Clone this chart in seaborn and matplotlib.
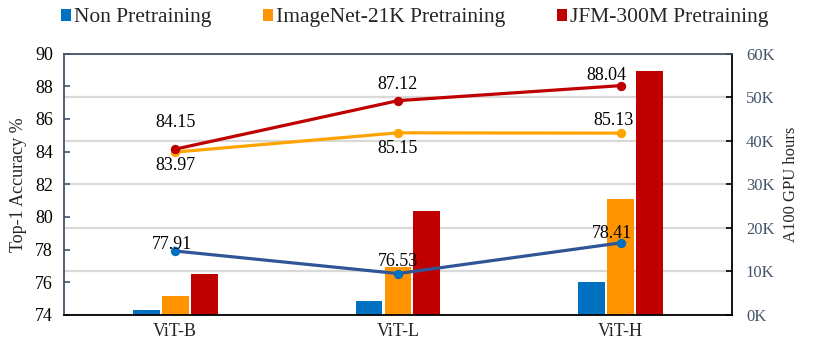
import numpy as np, pandas as pd
import matplotlib
matplotlib.use("Agg")
import matplotlib.pyplot as plt
from matplotlib.patches import Patch
from matplotlib.ticker import FuncFormatter, MultipleLocator
import seaborn as sns

models = ["ViT-B", "ViT-L", "ViT-H"]
settings = ["Non Pretraining", "ImageNet-21K Pretraining", "JFM-300M Pretraining"]
# top-1 accuracy (left axis, lines)
acc_non = [77.91, 76.53, 78.41]
acc_in21k = [83.97, 85.15, 85.13]
acc_jfm = [84.15, 87.12, 88.04]
# A100 GPU hours (right axis, bars)
hours_non = [1150, 3100, 7600]
hours_in21k = [4400, 11100, 26500]
hours_jfm = [9400, 23800, 55900]

BAR_COLORS = ["#0070C0", "#FF9300", "#C00000"]
LINE_COLORS = ["#2F5597", "#FFA300", "#C00000"]
MARK_COLORS = ["#0070C0", "#FFA300", "#C00000"]
SLATE = "#44546A"

sns.set_style("white")
plt.rcParams["font.family"] = ["Liberation Serif", "DejaVu Serif"]

bars = pd.DataFrame({
    "model": models * 3,
    "setting": np.repeat(settings, 3),
    "hours": hours_non + hours_in21k + hours_jfm,
})
accs = [acc_non, acc_in21k, acc_jfm]

fig = plt.figure(figsize=(8.3, 3.46), dpi=100)
ax = fig.add_axes([0.077, 0.09, 0.805, 0.755])
ax2 = ax.twinx()

sns.barplot(data=bars, x="model", y="hours", hue="setting", order=models,
            hue_order=settings, palette=BAR_COLORS, saturation=1, width=0.39, gap=0.07,
            linewidth=0, legend=False, ax=ax2)
ax2.set_ylim(0, 60000)
ax2.yaxis.set_major_locator(MultipleLocator(10000))
ax2.yaxis.set_major_formatter(FuncFormatter(lambda v, p: f"{v/1000:.0f}K"))
ax2.yaxis.grid(True, color="#D9D9D9", lw=1.6)
ax2.set_axisbelow(True)
ax2.set_ylabel("A100 GPU hours", fontsize=12, labelpad=6)
ax2.tick_params(axis="y", direction="in", length=4, width=1.2, color="black",
                labelsize=12, labelcolor=SLATE, pad=10)
for s in ax2.spines.values():
    s.set_visible(False)

for vals, lc, mc in zip(accs, LINE_COLORS, MARK_COLORS):
    sns.pointplot(x=models, y=vals, order=models, color=lc, errorbar=None,
                  markers="o", markersize=5, linewidth=2.3,
                  markerfacecolor=mc, markeredgecolor=mc, ax=ax)

# label offsets (points) for each series / model
offsets = [[(-2, 5), (0, 8.5), (-6, 7)],
           [(0, -10), (0, -11), (-5, 9)],
           [(0, 19), (0, 11.5), (-10, 7)]]
for vals, offs in zip(accs, offsets):
    for i, (v, o) in enumerate(zip(vals, offs)):
        ax.annotate(f"{v:.2f}", xy=(i, v), xytext=o, textcoords="offset points",
                    ha="center", va="center", fontsize=13, color="black")

ax.set_zorder(ax2.get_zorder() + 1)
ax.patch.set_visible(False)
ax.set_xlim(-0.5, 2.5)
ax.set_ylim(74, 90)
ax.yaxis.set_major_locator(MultipleLocator(2))
ax.set_ylabel("Top-1 Accuracy %", fontsize=13, labelpad=6)
ax.set_xlabel("")
ax.tick_params(axis="y", direction="in", length=4, width=1.2, color=SLATE,
               labelsize=13, labelcolor="black", pad=8)
ax.tick_params(axis="x", length=0, labelsize=13, pad=6)
for name, s in ax.spines.items():
    s.set_visible(True)
    s.set_linewidth(1.3)
ax.spines["left"].set_color(SLATE)
ax.spines["top"].set_color(SLATE)
ax.spines["bottom"].set_color("black")
ax.spines["right"].set_color("black")

handles = [Patch(facecolor=c, edgecolor="none", label=s) for c, s in zip(BAR_COLORS, settings)]
fig.legend(handles=handles, loc="center", bbox_to_anchor=(0.5, 0.948), ncol=3,
           frameon=False, fontsize=15.5, handlelength=0.45, handleheight=0.45,
           handletextpad=0.15, columnspacing=2.4)

fig.savefig("out.png", dpi=100)
